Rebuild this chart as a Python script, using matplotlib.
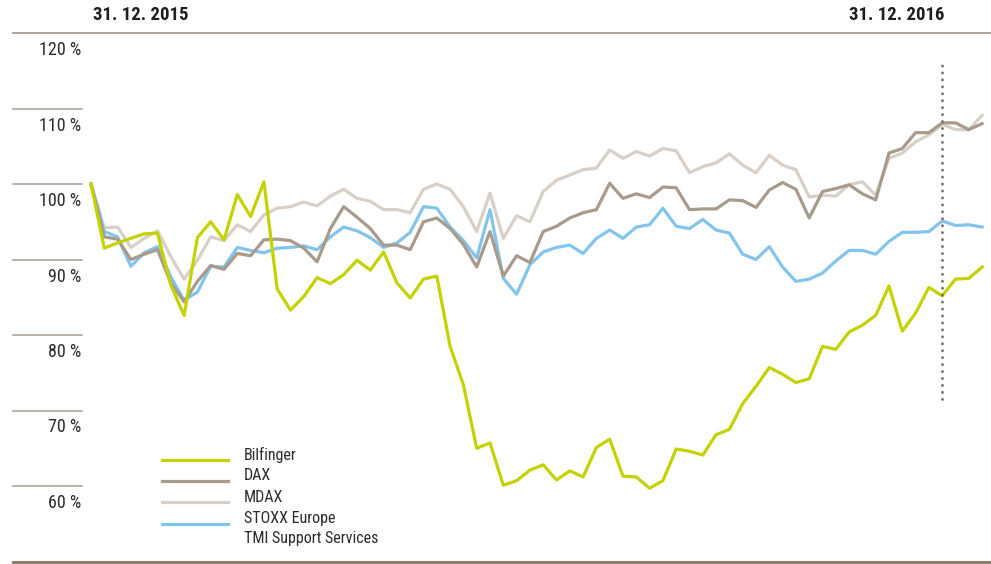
import matplotlib
matplotlib.use("Agg")
import matplotlib.pyplot as plt
from matplotlib.lines import Line2D
import numpy as np

# ---------------- data ----------------
bilfinger = [100.0, 91.5, 92.2, 92.8, 93.4, 93.5, 86.6, 82.6, 92.9, 95.0,
             92.6, 98.6, 95.7, 100.3, 86.1, 83.3, 85.1, 87.6, 86.8, 88.0,
             89.9, 88.6, 91.0, 86.9, 84.9, 87.4, 87.8, 78.5, 73.4, 65.0,
             65.7, 60.1, 60.7, 62.1, 62.8, 60.8, 62.0, 61.2, 65.1, 66.2,
             61.3, 61.2, 59.7, 60.7, 64.9, 64.6, 64.1, 66.8, 67.5, 70.9,
             73.2, 75.7, 74.8, 73.7, 74.2, 78.5, 78.1, 80.4, 81.3, 82.6,
             86.5, 80.5, 82.9, 86.3, 85.2, 87.4, 87.5, 89.0]
dax = [100.0, 93.0, 92.7, 90.0, 90.7, 91.3, 86.9, 84.4, 87.1, 89.2,
       88.7, 90.8, 90.5, 92.6, 92.7, 92.5, 91.5, 89.7, 94.1, 97.0,
       95.6, 94.1, 91.9, 91.9, 91.3, 95.0, 95.5, 94.1, 92.0, 89.0,
       93.7, 87.8, 90.5, 89.6, 93.7, 94.4, 95.5, 96.2, 96.6, 100.1,
       98.1, 98.7, 98.2, 99.6, 99.5, 96.6, 96.7, 96.7, 97.9, 97.8,
       96.9, 99.2, 100.2, 99.3, 95.5, 99.0, 99.4, 99.9, 98.7, 97.9,
       104.1, 104.7, 106.8, 106.8, 108.1, 108.1, 107.2, 108.0]
mdax = [100.0, 94.2, 94.3, 91.6, 92.8, 93.8, 90.4, 87.4, 89.9, 93.0,
        92.5, 94.6, 93.7, 95.9, 96.8, 97.0, 97.6, 97.1, 98.4, 99.3,
        98.1, 97.7, 96.6, 96.6, 96.2, 99.3, 100.0, 99.3, 97.0, 93.7,
        98.8, 92.8, 95.8, 95.0, 99.0, 100.5, 101.2, 101.9, 102.1, 104.5,
        103.4, 104.3, 103.7, 104.7, 104.4, 101.5, 102.3, 102.8, 104.0, 102.5,
        101.5, 103.8, 102.5, 101.9, 98.3, 98.5, 98.4, 99.9, 100.3, 98.5,
        103.4, 104.1, 105.6, 106.5, 107.9, 107.2, 107.2, 109.1]
stoxx = [100.0, 93.7, 93.0, 89.1, 90.9, 91.7, 87.7, 84.6, 85.7, 89.1,
         89.0, 91.6, 91.2, 90.9, 91.5, 91.6, 91.8, 91.3, 93.0, 94.3,
         93.8, 92.9, 91.6, 92.2, 93.6, 97.0, 96.8, 94.3, 92.5, 90.2,
         96.6, 87.5, 85.4, 89.3, 91.0, 91.6, 91.9, 90.8, 92.8, 93.9,
         92.8, 94.3, 94.6, 96.8, 94.4, 94.1, 95.3, 93.9, 93.5, 90.7,
         90.0, 91.7, 89.0, 87.1, 87.4, 88.2, 89.8, 91.2, 91.2, 90.7,
         92.4, 93.6, 93.6, 93.7, 95.1, 94.5, 94.6, 94.3]

series_names = ["Bilfinger", "DAX", "MDAX", "STOXX Europe"]
legend_extra = "TMI Support Services"
y_ticks = [60, 70, 80, 90, 100, 110, 120]
tick_labels = ["60 %", "70 %", "80 %", "90 %", "100 %", "110 %", "120 %"]
date_start = "31. 12. 2015"
date_end = "31. 12. 2016"
end_index = 64  # position of 31.12.2016

# ---------------- style ----------------
C_BIL = "#c4d200"
C_DAX = "#a89b8c"
C_MDAX = "#d8d0c6"
C_STOXX = "#82c5ec"
C_RULE = "#a89c8e"
C_TEXT = "#2b2b2b"

plt.rcParams["font.family"] = ["Roboto Condensed", "DejaVu Sans"]

W, H = 991, 564
fig = plt.figure(figsize=(W / 100, H / 100), dpi=100)
ax = fig.add_axes([0, 0, 1, 1])
ax.set_axis_off()

# pixel mapping: x_px = 91 + 13.3*i ; y_px = 184 - (v-100)*7.55
px_per_i = 13.3
px_per_v = 7.55
ax.set_xlim(-91 / px_per_i, (W - 91) / px_per_i)
ax.set_ylim(100 - (H - 184) / px_per_v, 100 + 184 / px_per_v)

def fx(xp):
    return xp / W

def fy(yp):
    return 1 - yp / H

x = np.arange(len(bilfinger))

# rules
ax.axhline(120, xmin=fx(13), xmax=1, color=C_RULE, lw=1.3, zorder=1)
ax.axhline(50, xmin=fx(13), xmax=1, color="#8c7f6f", lw=2.2, zorder=1)
for t, lab in zip(y_ticks, tick_labels):
    if t != 120:
        ax.axhline(t, xmin=fx(13), xmax=fx(82), color=C_RULE, lw=1.1, zorder=1)
    ax.text(fx(81), t - 17 / px_per_v, lab, transform=ax.get_yaxis_transform(),
            ha="right", va="center", fontsize=13, color=C_TEXT)

lw = 2.3
ax.plot(x, mdax, color=C_MDAX, lw=lw, zorder=3)
ax.plot(x, stoxx, color=C_STOXX, lw=lw, zorder=4)
ax.plot(x, dax, color=C_DAX, lw=lw, zorder=5)
ax.plot(x, bilfinger, color=C_BIL, lw=lw, zorder=6)

# dotted end-of-year line (drawn over the series)
ax.plot([end_index, end_index], [100 - (399 - 184) / px_per_v, 100 + (184 - 60) / px_per_v],
        color="#7a6e60", lw=2.0, linestyle=(0, (0.1, 2.4)), dash_capstyle="round", zorder=7)

# header dates
fig.text(fx(93), fy(15), date_start, ha="left", va="center", fontsize=13.5,
         fontweight="bold", color="#1e1e1e")
fig.text(fx(944), fy(15), date_end, ha="right", va="center", fontsize=13.5,
         fontweight="bold", color="#1e1e1e")

# legend
leg_colors = [C_BIL, C_DAX, C_MDAX, C_STOXX]
line_y = [460, 481, 502, 524]
text_y = [455, 476, 497, 518, 539]
for c, ly in zip(leg_colors, line_y):
    fig.add_artist(Line2D([fx(162), fx(228)], [fy(ly), fy(ly)], color=c, lw=2.3,
                          transform=fig.transFigure))
for lab, ty in zip(series_names + [legend_extra], text_y):
    fig.text(fx(244), fy(ty), lab, ha="left", va="center", fontsize=11.5, color=C_TEXT)

fig.savefig("out.png", dpi=100)
